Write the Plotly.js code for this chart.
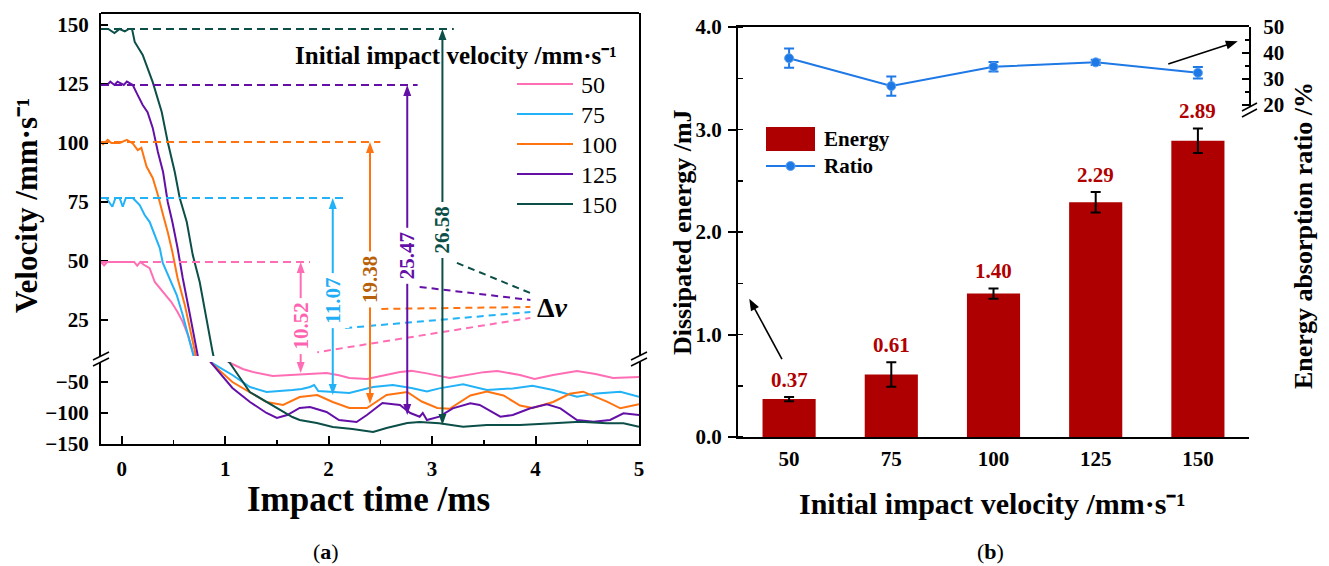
<!DOCTYPE html>
<html><head><meta charset="utf-8">
<script src="https://cdn.plot.ly/plotly-3.0.1.min.js"></script>
<style>html,body{margin:0;padding:0;background:#fff}#chart{width:1329px;height:566px}</style>
</head><body><div id="chart"></div><script>
// ---------------- DATA ----------------
const velocityLabels = ['50', '75', '100', '125', '150'];

const t50 = [-0.20,-0.17,-0.14,-0.10,0.00,0.12,0.15,0.18,0.21,0.27,0.32,0.40,0.48,0.54,0.59,0.64,0.69,0.80,0.95,1.07,1.17,1.27,1.46,1.60,1.72,1.85,1.98,2.10,2.20,2.37,2.56,2.69,2.80,2.95,3.17,3.37,3.50,3.63,3.85,3.99,4.17,4.40,4.58,4.75,4.90,5.00];
const v50 = [49.6,48.2,49.6,49.6,49.6,49.6,48.0,49.6,48.5,47.0,41.1,36.9,32.6,28.4,24.2,18.7,11.1,2.0,-12.0,-22.0,-30.0,-34.8,-41.2,-40.0,-39.6,-38.0,-36.4,-40.0,-44.4,-46.0,-39.6,-34.8,-33.0,-37.0,-44.4,-38.0,-35.0,-33.2,-39.6,-46.0,-39.6,-33.2,-38.0,-44.4,-43.0,-42.8];

const t75 = [-0.20,-0.15,-0.09,-0.06,-0.02,0.01,0.04,0.107,0.174,0.222,0.271,0.319,0.368,0.397,0.464,0.532,0.59,0.638,0.687,0.78,0.88,1.07,1.24,1.40,1.65,1.74,1.82,1.86,1.90,2.04,2.20,2.43,2.62,2.80,2.95,3.07,3.30,3.53,3.78,3.97,4.17,4.40,4.59,4.82,5.00];
const v75 = [76.7,76.7,73.0,76.7,76.7,73.0,76.7,76.7,73.7,69.5,66.5,61.0,55.5,49.2,42.8,35.6,27.1,18.7,11.1,-5.0,-21.0,-39.6,-58.8,-66.8,-63.6,-62.0,-58.8,-55.6,-65.2,-66.8,-68.4,-58.8,-55.6,-60.4,-66.0,-61.0,-54.5,-63.6,-61.0,-56.7,-63.6,-74.3,-69.0,-66.3,-74.3];

const t100 = [-0.20,-0.18,-0.135,-0.10,-0.02,0.05,0.107,0.155,0.19,0.24,0.30,0.35,0.40,0.445,0.49,0.54,0.61,0.66,0.71,0.79,0.87,1.07,1.24,1.40,1.56,1.72,1.89,2.04,2.20,2.37,2.56,2.76,2.90,3.05,3.17,3.37,3.53,3.69,3.85,3.97,4.17,4.33,4.46,4.69,4.82,5.00];
const v100 = [100.4,99.5,101.3,100.0,100.0,101.3,99.8,97.0,98.0,90.0,85.2,78.0,69.5,62.3,53.8,42.8,31.4,21.6,11.1,-5.0,-21.0,-50.8,-66.8,-82.8,-87.6,-74.8,-71.6,-82.8,-92.4,-92.4,-71.6,-66.8,-82.0,-92.4,-93.7,-72.4,-66.0,-72.4,-88.4,-92.4,-82.8,-69.7,-66.3,-82.3,-92.9,-86.5];

const t125 = [-0.20,-0.14,-0.11,-0.07,-0.04,0.02,0.05,0.107,0.155,0.203,0.25,0.30,0.35,0.40,0.445,0.49,0.54,0.59,0.66,0.725,0.80,0.87,1.07,1.24,1.40,1.50,1.60,1.72,1.82,1.98,2.10,2.27,2.37,2.52,2.69,2.79,2.88,2.91,2.95,3.07,3.20,3.37,3.46,3.66,3.78,3.95,4.11,4.24,4.40,4.56,4.72,4.85,5.00];
const v125 = [124.6,124.6,126.0,124.6,126.0,124.6,126.0,124.6,120.3,116.1,113.1,106.4,96.2,87.7,75.0,66.5,55.5,42.8,27.1,11.1,-5.0,-21.0,-60.4,-82.8,-100.4,-108.4,-103.6,-92.4,-90.8,-98.8,-111.6,-114.8,-103.6,-84.4,-87.6,-100.4,-106.3,-100.4,-111.6,-106.3,-92.9,-84.9,-87.6,-106.3,-103.6,-92.9,-86.5,-92.9,-111.6,-114.3,-111.6,-100.9,-103.6];

const t150 = [-0.20,-0.13,-0.07,-0.02,0.03,0.07,0.10,0.126,0.203,0.30,0.387,0.445,0.513,0.561,0.629,0.687,0.754,0.822,0.88,0.96,1.044,1.238,1.50,1.65,1.72,1.886,2.04,2.23,2.43,2.56,2.76,2.88,3.07,3.30,3.53,3.85,4.17,4.43,4.69,4.85,5.00];
const v150 = [148.3,148.3,146.6,148.3,147.3,148.3,148.3,142.8,137.3,125.8,113.1,100.4,87.7,76.7,66.5,52.5,41.1,24.2,11.1,-4.0,-20.0,-66.8,-92.4,-106.8,-111.6,-116.4,-122.8,-126.0,-130.8,-124.4,-116.4,-114.8,-116.9,-122.3,-119.6,-119.6,-116.9,-114.3,-116.9,-116.9,-122.3];

const initialVelocity = [49.6, 76.7, 100.4, 124.6, 148.3];
const minVelocity = [-36.4, -71.6, -86.0, -103.6, -119.6];
const deltaV = ['10.52', '11.07', '19.38', '25.47', '26.58'];

const energyCategories = ['50', '75', '100', '125', '150'];
const energy = [0.37, 0.61, 1.40, 2.29, 2.89];
const energyErr = [0.02, 0.12, 0.05, 0.10, 0.12];
const ratio = [38.0, 27.3, 34.7, 36.4, 32.4];
const ratioErr = [3.7, 3.7, 1.8, 1.0, 2.2];

// ---------------- STYLE / LAYOUT ----------------
const W = 1329, H = 566;
const PX = p => p / W, PY = p => 1 - p / H;
const FONT = 'Liberation Serif, Times New Roman, serif';
const colors = ['#FF6EB4', '#22B2F7', '#FF7411', '#6410A8', '#0B4F48'];
const labelColors = ['#FF62B0', '#1FAEF5', '#B8610A', '#6410A8', '#0B4F48'];
const series = [[t50, v50], [t75, v75], [t100, v100], [t125, v125], [t150, v150]];
const UNIT = 'mm·s⁻¹';

// axis geometry (pixels) and ranges
const A = {left: 101, right: 639, top: 13, upBot: 356, loTop: 362, bottom: 444};
const B = {left: 738, right: 1249, top: 27, bottom: 437, upBot: 107, loTop: 114};
const xRangeA = [-0.2, 5];
const upRange = [9.75, 155.08], loRange = [-150, -18.8];
const yRangeB = [0, 4], rLoRange = [0, 15.94], rUpRange = [19.23, 50];

// data -> pixel helpers derived from the axis definitions
const lin = (v, r, p0, p1) => p0 + (v - r[0]) / (r[1] - r[0]) * (p1 - p0);
const xA = x => lin(x, xRangeA, A.left, A.right);
const yUp = v => lin(v, upRange, A.upBot, A.top);
const yLo = v => lin(v, loRange, A.bottom, A.loTop);
const xB = i => lin(i, [-0.5, 4.5], B.left, B.right);
const yB = v => lin(v, yRangeB, B.bottom, B.top);

const arrowX = [1.73, 2.04, 2.40, 2.76, 3.10];
const labelY = [22.5, 33.1, 42.0, 52.1, 63.1];
const refLineEnd = [1.82, 2.15, 2.50, 2.86, 3.21];
const leaders = [ // [x0,y0,x1,y1] in upper-axis units
  [1.84, 11.0, 3.95, 25.9], [2.16, 21.6, 3.95, 28.4], [2.51, 29.7, 3.95, 30.5],
  [2.88, 39.0, 3.95, 33.5], [3.24, 49.2, 3.95, 36.4]];

const traces = [];
series.forEach(([t, v], i) => {
  ['y', 'y2'].forEach(ya => traces.push({
    x: t, y: v, xaxis: 'x', yaxis: ya, type: 'scatter', mode: 'lines',
    line: {color: colors[i], width: 2}, showlegend: false, name: velocityLabels[i], hoverinfo: 'skip'
  }));
});
traces.push({
  x: energyCategories, y: energy, type: 'bar', xaxis: 'x2', yaxis: 'y3', width: 0.52,
  marker: {color: '#AE0000', line: {width: 0}}, name: 'Energy', showlegend: false,
  error_y: {type: 'data', array: energyErr, visible: true, color: '#000', thickness: 2, width: 5}
});
traces.push({
  x: energyCategories, y: ratio, type: 'scatter', mode: 'lines+markers', xaxis: 'x2', yaxis: 'y5',
  line: {color: '#1E78E6', width: 2}, marker: {color: '#1E78E6', size: 9, line: {color: '#5AA2F0', width: 1}},
  name: 'Ratio', showlegend: false,
  error_y: {type: 'data', array: ratioErr, visible: true, color: '#1E78E6', thickness: 2, width: 5}
});

const shapes = [];
const ann = [];
const T = o => Object.assign({xanchor: 'center', yanchor: 'middle', showarrow: false}, o);
const lineBlk = {color: '#000', width: 2};

// arrow drawn as shapes in pixel space (converted to paper coords)
function arrow(x0, y0, x1, y1, color, width, both, hl, hw) {
  const dx = x1 - x0, dy = y1 - y0, L = Math.hypot(dx, dy), ux = dx / L, uy = dy / L;
  const head = (tx, ty, sx, sy) => {
    const bx = tx - sx * hl, by = ty - sy * hl;
    const p = [[tx, ty], [bx - sy * hw, by + sx * hw], [bx + sy * hw, by - sx * hw]];
    shapes.push({type: 'path', xref: 'paper', yref: 'paper', fillcolor: color, line: {width: 0},
      path: 'M' + p.map(q => PX(q[0]) + ',' + PY(q[1])).join('L') + 'Z'});
  };
  const sx0 = both ? x0 + ux * (hl - 1) : x0, sy0 = both ? y0 + uy * (hl - 1) : y0;
  shapes.push({type: 'line', xref: 'paper', yref: 'paper', x0: PX(sx0), y0: PY(sy0),
    x1: PX(x1 - ux * (hl - 1)), y1: PY(y1 - uy * (hl - 1)), line: {color: color, width: width}});
  head(x1, y1, ux, uy);
  if (both) head(x0, y0, -ux, -uy);
}

// frame top of (a)
shapes.push({type: 'line', xref: 'paper', yref: 'paper', x0: PX(A.left), x1: PX(A.right), y0: PY(A.top), y1: PY(A.top), line: lineBlk});
// break marks
[[A.left, 359], [A.right, 359]].forEach(([cx, cy]) => {
  [-3, 3].forEach(d => shapes.push({type: 'line', xref: 'paper', yref: 'paper',
    x0: PX(cx - 8), y0: PY(cy + d + 4), x1: PX(cx + 8), y1: PY(cy + d - 4), line: {color: '#000', width: 1.5}}));
});
[-3, 3].forEach(d => shapes.push({type: 'line', xref: 'paper', yref: 'paper',
  x0: PX(B.right - 7), y0: PY(110 + d + 4), x1: PX(B.right + 8), y1: PY(110 + d - 4), line: {color: '#000', width: 1.5}}));

// dashed reference lines, arrows, labels, leaders
initialVelocity.forEach((v0, i) => {
  shapes.push({type: 'line', xref: 'x', yref: 'y', x0: xRangeA[0], x1: refLineEnd[i], y0: v0, y1: v0,
    line: {color: colors[i], width: 2, dash: '8px,5px'}});
  const px = xA(arrowX[i]);
  arrow(px, yUp(v0), px, yLo(minVelocity[i]), colors[i], 2, true, 11, 4);
  ann.push(T({xref: 'x', yref: 'y', x: arrowX[i], y: labelY[i], text: deltaV[i], textangle: -90,
    bgcolor: '#fff', borderpad: 4, font: {family: FONT, size: 21, weight: 'bold', color: labelColors[i]}}));
  const L = leaders[i];
  shapes.push({type: 'line', xref: 'x', yref: 'y', x0: L[0], y0: L[1], x1: L[2], y1: L[3],
    line: {color: colors[i], width: 2, dash: '7px,5px'}});
});
ann.push(T({xref: 'x', yref: 'y', x: 4.16, y: 30.1, text: 'Δ<i>v</i>',
  font: {family: FONT, size: 28, weight: 'bold', color: '#000'}}));

// legend (a)
ann.push(T({xref: 'paper', yref: 'paper', x: PX(456), y: PY(55), text: 'Initial impact velocity /' + UNIT,
  font: {family: FONT, size: 25, weight: 'bold', color: '#000'}}));
const legYs = [84, 114, 144, 174, 204];
velocityLabels.forEach((lab, i) => {
  shapes.push({type: 'line', xref: 'paper', yref: 'paper', x0: PX(517), x1: PX(573), y0: PY(legYs[i]), y1: PY(legYs[i]),
    line: {color: colors[i], width: 2}});
  ann.push(T({xref: 'paper', yref: 'paper', x: PX(579), y: PY(legYs[i] + 1), xanchor: 'left', text: lab,
    font: {family: FONT, size: 24, color: '#000'}}));
});

// legend (b)
shapes.push({type: 'rect', xref: 'paper', yref: 'paper', x0: PX(766), x1: PX(815), y0: PY(151), y1: PY(127),
  fillcolor: '#AE0000', line: {width: 0}});
ann.push(T({xref: 'paper', yref: 'paper', x: PX(822), y: PY(139), xanchor: 'left', text: 'Energy',
  font: {family: FONT, size: 21, weight: 'bold', color: '#000'}}));
shapes.push({type: 'line', xref: 'paper', yref: 'paper', x0: PX(766), x1: PX(815), y0: PY(166), y1: PY(166),
  line: {color: '#1E78E6', width: 2}});
shapes.push({type: 'circle', xref: 'paper', yref: 'paper', x0: PX(786), x1: PX(795), y0: PY(170.5), y1: PY(161.5),
  fillcolor: '#1E78E6', line: {color: '#5AA2F0', width: 1}});
ann.push(T({xref: 'paper', yref: 'paper', x: PX(822), y: PY(166), xanchor: 'left', text: 'Ratio',
  font: {family: FONT, size: 21, weight: 'bold', color: '#000'}}));

// bar value labels (category axis: positions are category indices)
energy.forEach((e, i) => ann.push(T({xref: 'x2', yref: 'y3', x: i, y: e + energyErr[i],
  yanchor: 'bottom', yshift: 3, text: e.toFixed(2),
  font: {family: FONT, size: 21, weight: 'bold', color: '#B00000'}})));

// axis pointer arrows (b): tail -> head, in (category index, left-axis value)
arrow(xB(-0.07), yB(0.76), xB(-0.39), yB(1.35), '#000', 1.6, false, 12, 4.5);
arrow(xB(3.71), yB(3.64), xB(4.39), yB(3.86), '#000', 1.6, false, 12, 4.5);

// titles
const tfont = s => ({family: FONT, size: s, weight: 'bold', color: '#000'});
ann.push(T({xref: 'paper', yref: 'paper', x: PX(27), y: PY(206), text: 'Velocity /' + UNIT, textangle: -90, font: tfont(31)}));
ann.push(T({xref: 'paper', yref: 'paper', x: PX(369), y: PY(500), text: 'Impact time /ms', font: tfont(35)}));
ann.push(T({xref: 'paper', yref: 'paper', x: PX(682), y: PY(232), text: 'Dissipated energy /mJ', textangle: -90, font: tfont(26)}));
ann.push(T({xref: 'paper', yref: 'paper', x: PX(1303), y: PY(236), text: 'Energy absorption ratio /%', textangle: -90, font: tfont(26)}));
ann.push(T({xref: 'paper', yref: 'paper', x: PX(992), y: PY(503), text: 'Initial impact velocity /' + UNIT, font: tfont(30)}));
ann.push(T({xref: 'paper', yref: 'paper', x: PX(326), y: PY(551), text: '(<b>a</b>)', font: {family: FONT, size: 22, color: '#000'}}));
ann.push(T({xref: 'paper', yref: 'paper', x: PX(990), y: PY(551), text: '(<b>b</b>)', font: {family: FONT, size: 22, color: '#000'}}));

const tickFont = {family: FONT, size: 21, weight: 'bold', color: '#000'};
const baseAx = {showgrid: false, zeroline: false, showline: true, linecolor: '#000', linewidth: 2,
  tickcolor: '#000', tickwidth: 2, tickfont: tickFont, fixedrange: true};

const layout = {
  width: W, height: H, margin: {l: 0, r: 0, t: 0, b: 0}, paper_bgcolor: '#fff', plot_bgcolor: 'rgba(0,0,0,0)',
  font: {family: FONT, color: '#000'}, showlegend: false,
  xaxis: Object.assign({}, baseAx, {domain: [PX(A.left), PX(A.right)], range: xRangeA, anchor: 'y2',
    ticks: 'inside', ticklen: 8, dtick: 1, tick0: 0, ticklabelstandoff: 5,
    minor: {ticks: 'inside', ticklen: 4, dtick: 0.5, tickwidth: 1.5, tickcolor: '#000', showgrid: false}}),
  yaxis: Object.assign({}, baseAx, {domain: [PY(A.upBot), PY(A.top)], range: upRange, anchor: 'x', mirror: true,
    tickvals: [25, 50, 75, 100, 125, 150], ticks: 'inside', ticklen: 7, ticklabelstandoff: 6}),
  yaxis2: Object.assign({}, baseAx, {domain: [PY(A.bottom), PY(A.loTop)], range: loRange, anchor: 'x', mirror: true,
    tickvals: [-150, -100, -50], ticks: 'inside', ticklen: 7, ticklabelstandoff: 6}),
  xaxis2: Object.assign({}, baseAx, {domain: [PX(B.left), PX(B.right)], type: 'category', range: [-0.5, 4.5],
    anchor: 'y3', mirror: true, ticks: '', ticklabelstandoff: 2}),
  yaxis3: Object.assign({}, baseAx, {domain: [PY(B.bottom), PY(B.top)], range: yRangeB, anchor: 'x2',
    dtick: 1, tick0: 0, tickformat: '.1f', ticks: 'outside', ticklen: 8, ticklabelstandoff: 2,
    minor: {ticks: 'inside', ticklen: 5, dtick: 0.5, tickwidth: 1.5, tickcolor: '#000', showgrid: false}}),
  yaxis4: Object.assign({}, baseAx, {domain: [PY(B.bottom), PY(B.loTop)], range: rLoRange, anchor: 'x2', side: 'right',
    tickvals: [0, 5, 10, 15], ticks: 'inside', ticklen: 8, ticklabelstandoff: 8,
    minor: {ticks: 'inside', ticklen: 5, dtick: 2.5, tickwidth: 1.5, tickcolor: '#000', showgrid: false}}),
  yaxis5: Object.assign({}, baseAx, {domain: [PY(B.upBot), PY(B.top)], range: rUpRange, anchor: 'x2', side: 'right',
    tickvals: [20, 30, 40, 50], ticks: 'inside', ticklen: 7, ticklabelstandoff: 8,
    minor: {ticks: 'inside', ticklen: 4, dtick: 5, tickwidth: 1.5, tickcolor: '#000', showgrid: false}}),
  shapes: shapes, annotations: ann
};
Plotly.newPlot('chart', traces, layout, {displayModeBar: false, staticPlot: true});
</script></body></html>
